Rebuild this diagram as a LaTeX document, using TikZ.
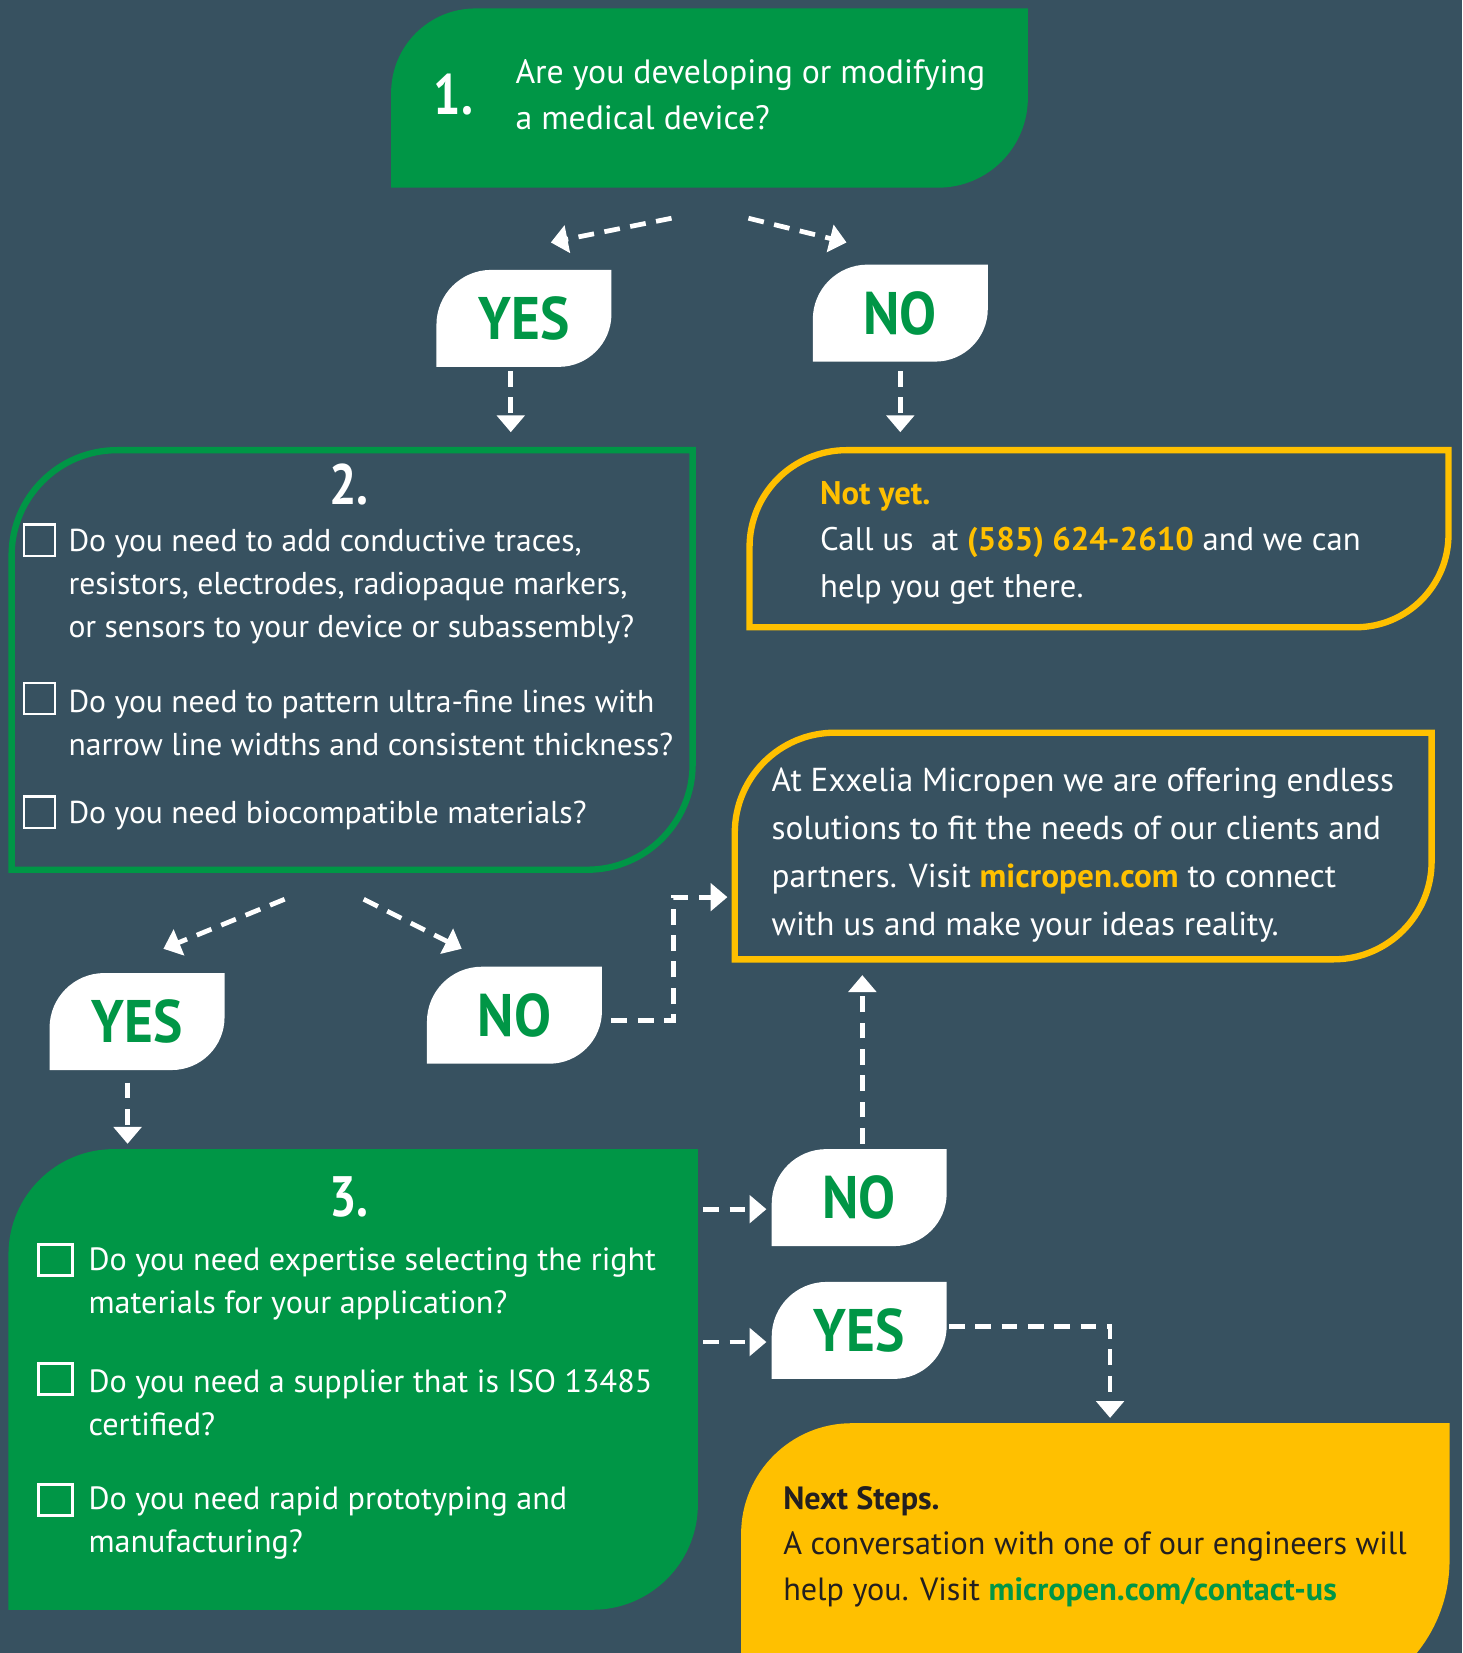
\documentclass[tikz,border=0pt]{standalone}
\usepackage{fontspec}
\setmainfont{PT Sans}
\newfontfamily\ansfont{PT Sans}[FakeStretch=0.92]
\newfontfamily\numfont{PT Sans}[FakeStretch=0.85]
\usetikzlibrary{arrows.meta,positioning,calc}
\definecolor{mybg}{RGB}{55,81,96}
\definecolor{mygreen}{RGB}{0,150,70}
\definecolor{myyellow}{RGB}{255,192,0}
\definecolor{mydark}{RGB}{35,31,32}
\pgfdeclarelayer{bg}
\pgfdeclarelayer{shapes}
\pgfsetlayers{bg,shapes,main}
% leaf shaped box: style, node, top left radius, bottom right radius
\newcommand{\leafshape}[4]{\path[#1] (#2.south west) -- ([yshift=-#3]#2.north west) arc[start angle=180,end angle=90,radius=#3] -- (#2.north east) -- ([yshift=#4]#2.south east) arc[start angle=0,end angle=-90,radius=#4] -- cycle;}

\begin{document}
\begin{tikzpicture}[x=1pt,y=-1pt,
	every node/.style={inner sep=0pt,outer sep=0pt},
	boxnode/.style={anchor=north west},
	ansnode/.style={anchor=north west,minimum width=166pt,minimum height=92pt,text=mygreen,font=\ansfont\bfseries\fontsize{57}{57}\selectfont},
	numnode/.style={text=white,font=\numfont\bfseries\fontsize{54}{54}\selectfont},
	qtext/.style={anchor=west,align=left,text=white,font=\fontsize{31}{44.5}\selectfont},
	listtext/.style={anchor=west,align=left,text=white,font=\fontsize{30.5}{40.7}\selectfont},
	chknode/.style={draw=white,line width=2.5pt,minimum size=29.5pt},
	flow/.style={draw=white,line width=4.5pt,dash pattern=on 15pt off 10pt,-{Triangle[width=26pt,length=16pt]}},
	]
	\useasboundingbox (0,0) rectangle (1387,1568);
	
	% question 1
	\node[boxnode,minimum width=604pt,minimum height=170pt] (q1) at (371,8) {};
	\node[numnode] (n1) at (430,90) {1.};
	\node[qtext,font=\fontsize{32}{44}\selectfont] (q1txt) at (489,90) {Are you developing or modifying\\a medical device?};
	
	\node[ansnode] (yes1) at (414,256) {YES};
	\node[ansnode] (no1) at (771,251) {NO};
	
	% question 2
	\node[boxnode,minimum width=646pt,minimum height=398pt] (q2) at (11,427) {};
	\node[numnode] (n2) at (331,460) {2.};
	\node[chknode] (c21) at (37.5,512.5) {};
	\node[chknode] (c22) at (37.5,662.5) {};
	\node[chknode] (c23) at (37.5,770.5) {};
	\node[listtext,font=\fontsize{30}{40.5}\selectfont] (t21) at (65,556.5) {Do you need to add conductive traces,\\resistors, electrodes, radiopaque markers,\\or sensors to your device or subassembly?};
	\node[listtext,font=\fontsize{30}{40.5}\selectfont] (t22) at (65,686) {Do you need to pattern ultra-fine lines with\\narrow line widths and consistent thickness?};
	\node[listtext,font=\fontsize{30}{40.5}\selectfont] (t23) at (65,774) {Do you need biocompatible materials?};
	
	% not yet
	\node[boxnode,minimum width=663pt,minimum height=168pt] (notyet) at (711,427) {};
	\node[qtext] (notyettxt) at (778,515) {{\bfseries\color{myyellow}Not yet.}\\Call us\ \ at {\bfseries\color{myyellow}(585) 624-2610} and we can\\help you get there.};
	
	% info
	\node[boxnode,minimum width=661pt,minimum height=215pt] (info) at (697,695) {};
	\node[qtext,font=\fontsize{31.5}{45.3}\selectfont] (infotxt) at (732,811) {At Exxelia Micropen we are offering endless\\solutions to fit the needs of our clients and\\partners. Visit {\bfseries\color{myyellow}micropen.com} to connect\\with us and make your ideas reality.};
	
	\node[ansnode] (yes2) at (47,923) {YES};
	\node[ansnode] (no2) at (405,917) {NO};
	
	% question 3
	\node[boxnode,minimum width=654pt,minimum height=437pt] (q3) at (8,1090) {};
	\node[numnode] (n3) at (331,1135) {3.};
	\node[chknode,minimum width=32pt] (c31) at (52.5,1195) {};
	\node[chknode,minimum width=32pt] (c32) at (52.5,1308) {};
	\node[chknode,minimum width=32pt] (c33) at (52.5,1423) {};
	\node[listtext] (t31) at (84,1218) {Do you need expertise selecting the right\\materials for your application?};
	\node[listtext] (t32) at (84,1331) {Do you need a supplier that is ISO 13485\\certified?};
	\node[listtext] (t33) at (84,1445) {Do you need rapid prototyping and\\manufacturing?};
	
	\node[ansnode] (no3) at (732,1090) {NO};
	\node[ansnode] (yes3) at (732,1216) {YES};
	
	% next steps
	\node[boxnode,minimum width=672pt,minimum height=270pt] (next) at (703,1350) {};
	\node[qtext,text=mydark,font=\fontsize{30.5}{43}\selectfont] (nexttxt) at (743,1467) {{\bfseries Next Steps.}\\A conversation with one of our engineers will\\help you. Visit {\bfseries\color{mygreen}micropen.com/contact-us}};
	
	% box shapes
	\begin{pgfonlayer}{bg}
	\fill[mybg] (0,0) rectangle (1387,1568);
	\end{pgfonlayer}
	\begin{pgfonlayer}{shapes}
	\begin{scope}
	\clip (0,0) rectangle (1387,1568);
	\leafshape{fill=mygreen}{q1}{80pt}{85pt}
	\leafshape{draw=mygreen,line width=6pt}{q2}{100pt}{100pt}
	\leafshape{fill=mygreen}{q3}{100pt}{100pt}
	\leafshape{draw=myyellow,line width=6pt}{notyet}{92pt}{88pt}
	\leafshape{draw=myyellow,line width=6pt}{info}{95pt}{93pt}
	\leafshape{fill=myyellow}{next}{105pt}{140pt}
	\foreach \n in {yes1,no1,yes2,no2,yes3,no3}
	{\leafshape{fill=white}{\n}{52pt}{50pt}}
	\end{scope}
	\end{pgfonlayer}
	
	% connectors
	\draw[flow] ($(q1.south)+(-36,29)$) -- ($(yes1.north)+(25.5,-26)$);
	\draw[flow] ($(q1.south)+(37,29)$) -- ($(no1.north)+(-51,-21)$);
	\draw[flow] ($(yes1.south)+(-12.5,4)$) -- ($(yes1.south |- q2.north)+(-12.5,-17)$);
	\draw[flow] ($(no1.south)+(0,9)$) -- ($(no1.south |- notyet.north)+(0,-17)$);
	
	\draw[flow] ($(q2.south)+(-64,28)$) -- ($(yes2.north)+(25,-23)$);
	\draw[flow] ($(q2.south)+(11,28)$) -- ($(no2.north)+(-50,-17)$);
	\draw[flow] ($(yes2.south)+(-9,12)$) -- ($(yes2.south |- q3.north)+(-9,-5)$);
	\draw[flow] ($(no2.east)+(9,5)$) -| ($(info.west)+(-58,48.5)$) -- ($(info.west)+(-7,48.5)$);
	
	\draw[flow] ($(q3.east |- no3.west)+(5,11)$) -- ($(no3.west)+(-5,11)$);
	\draw[flow] ($(q3.east |- yes3.west)+(5,11)$) -- ($(yes3.west)+(-5,11)$);
	\draw[flow] ($(no3.north)+(3,-5)$) -- ($(no3.north |- info.south)+(3,15)$);
	\draw[flow] ($(yes3.east)+(2,-4)$) -| ($(next.north)+(14,-5)$);
	
\end{tikzpicture}
\end{document}
